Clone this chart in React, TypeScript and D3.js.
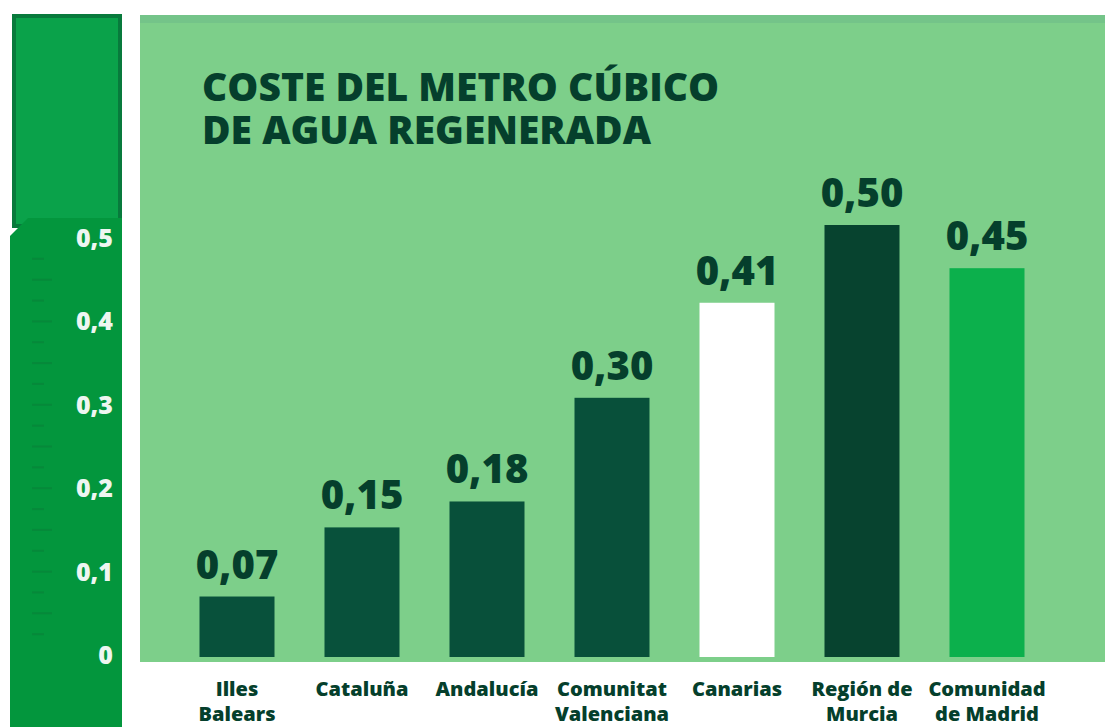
import React, { useRef, useEffect } from "react";
import * as d3 from "d3";

const categories = [
  ["Illes", "Balears"],
  ["Cataluña"],
  ["Andalucía"],
  ["Comunitat", "Valenciana"],
  ["Canarias"],
  ["Región de", "Murcia"],
  ["Comunidad", "de Madrid"],
];
const values = [0.07, 0.15, 0.18, 0.3, 0.41, 0.5, 0.45];
const valueLabels = ["0,07", "0,15", "0,18", "0,30", "0,41", "0,50", "0,45"];
const barColors = ["#08513b", "#08513b", "#08503a", "#08503a", "#ffffff", "#07432f", "#0cb04c"];
const yTicks = [0, 0.1, 0.2, 0.3, 0.4, 0.5];
const yTickLabels = ["0", "0,1", "0,2", "0,3", "0,4", "0,5"];
const titleLines = ["COSTE DEL METRO CÚBICO", "DE AGUA REGENERADA"];

const W = 1105;
const H = 727;
const DARK = "#053f2c";
const FONT = "'Open Sans', Lato, sans-serif";

const App: React.FC = () => {
  const svgRef = useRef<SVGSVGElement | null>(null);

  useEffect(() => {
    if (!svgRef.current) return;
    const svg = d3.select(svgRef.current);
    svg.selectAll("*").remove();

    const x = d3
      .scaleBand<number>()
      .domain(d3.range(categories.length))
      .range([174.5, 1049.5])
      .paddingInner(0.4)
      .paddingOuter(0.2);

    // bars scale and the (slightly compressed) printed ruler scale
    const y = d3.scaleLinear().domain([0, 0.5]).range([657, 225]);
    const yRuler = d3.scaleLinear().domain([0, 0.5]).range([655, 238]);

    // backgrounds
    svg.append("rect").attr("width", W).attr("height", H).attr("fill", "#ffffff");
    svg
      .append("rect")
      .attr("x", 140)
      .attr("y", 15)
      .attr("width", W - 140)
      .attr("height", 647)
      .attr("fill", "#7dcf8a");
    svg
      .append("rect")
      .attr("x", 140)
      .attr("y", 15)
      .attr("width", W - 140)
      .attr("height", 8)
      .attr("fill", "#74c489");

    // left strip
    svg
      .append("rect")
      .attr("x", 14)
      .attr("y", 16)
      .attr("width", 106)
      .attr("height", 210)
      .attr("fill", "#0aa24a")
      .attr("stroke", "#087a3c")
      .attr("stroke-width", 4);
    svg
      .append("path")
      .attr("d", "M10,236 L28,218 L122,218 L122,727 L10,727 Z")
      .attr("fill", "#03963d");

    // faint ruler ticks on the strip
    const g = svg.append("g");
    g.selectAll("line.rule")
      .data(d3.range(0.025, 0.5, 0.025))
      .enter()
      .append("line")
      .attr("x1", 32)
      .attr("x2", (d, i) => (i % 2 === 1 ? 52 : 44))
      .attr("y1", (d) => yRuler(d))
      .attr("y2", (d) => yRuler(d))
      .attr("stroke", "#06893a")
      .attr("stroke-width", 2);

    // y tick labels
    g.selectAll("text.tick")
      .data(yTicks)
      .enter()
      .append("text")
      .attr("x", 113)
      .attr("y", (d) => yRuler(d) + 9)
      .attr("text-anchor", "end")
      .attr("fill", "#eef6f1")
      .attr("font-family", FONT)
      .attr("font-weight", 800)
      .attr("font-size", 25)
      .text((d, i) => yTickLabels[i]);

    // title
    svg
      .append("g")
      .selectAll("text")
      .data(titleLines)
      .enter()
      .append("text")
      .attr("x", 202)
      .attr("y", (d, i) => 101 + i * 43)
      .attr("fill", DARK)
      .attr("font-family", FONT)
      .attr("font-weight", 800)
      .attr("font-size", 39)
      .text((d) => d);

    // bars
    svg
      .append("g")
      .selectAll("rect")
      .data(values)
      .enter()
      .append("rect")
      .attr("x", (d, i) => x(i)!)
      .attr("y", (d) => y(d))
      .attr("width", x.bandwidth())
      .attr("height", (d) => y(0) - y(d))
      .attr("fill", (d, i) => barColors[i]);

    // value labels
    svg
      .append("g")
      .selectAll("text")
      .data(values)
      .enter()
      .append("text")
      .attr("x", (d, i) => x(i)! + x.bandwidth() / 2)
      .attr("y", (d) => y(d) - 18)
      .attr("text-anchor", "middle")
      .attr("fill", DARK)
      .attr("font-family", FONT)
      .attr("font-weight", 800)
      .attr("font-size", 40)
      .text((d, i) => valueLabels[i]);

    // category labels
    const cat = svg
      .append("g")
      .selectAll("text")
      .data(categories)
      .enter()
      .append("text")
      .attr("x", (d, i) => x(i)! + x.bandwidth() / 2)
      .attr("y", 696)
      .attr("text-anchor", "middle")
      .attr("fill", DARK)
      .attr("font-family", FONT)
      .attr("font-weight", 800)
      .attr("font-size", 20);
    cat
      .selectAll("tspan")
      .data((d) => d)
      .enter()
      .append("tspan")
      .attr("x", function () {
        return (this.parentNode as SVGTextElement).getAttribute("x");
      })
      .attr("dy", (d, i) => (i === 0 ? 0 : 25))
      .text((d) => d);
  }, []);

  return (
    <svg
      ref={svgRef}
      width={W}
      height={H}
      style={{ position: "absolute", left: 0, top: 0, display: "block" }}
    />
  );
};

export default App;
